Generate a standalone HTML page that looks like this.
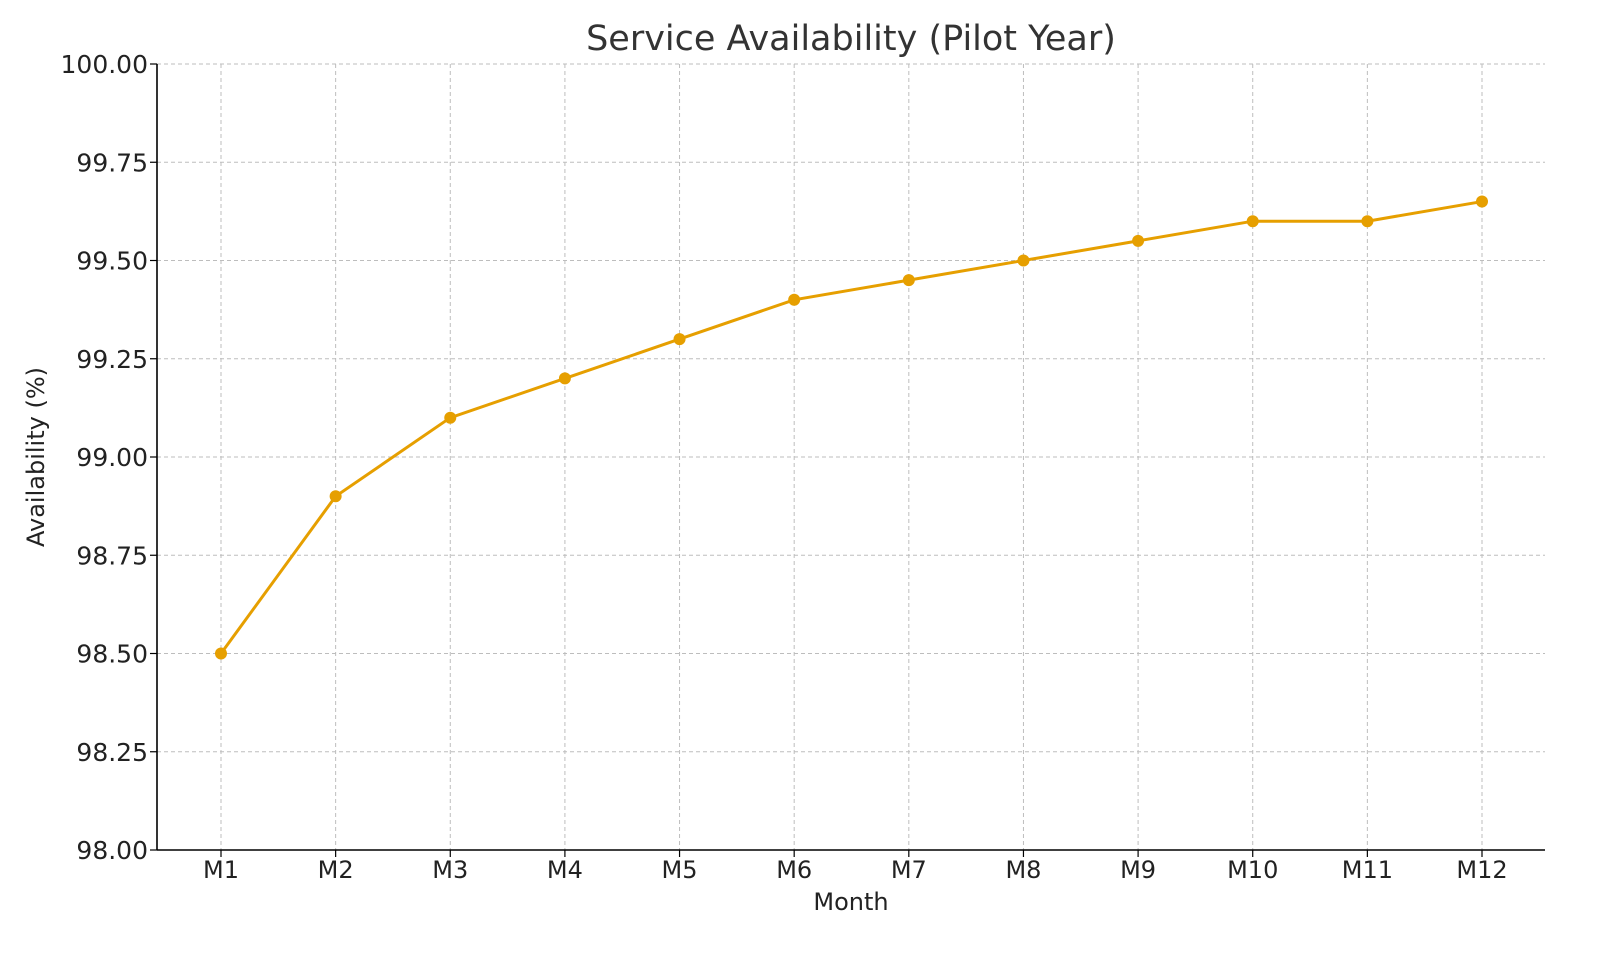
<!DOCTYPE html>
<html><head><meta charset="utf-8"><style>
html,body{margin:0;padding:0;background:#fff;}
svg{display:block;font-family:"DejaVu Sans","Liberation Sans",sans-serif;}
</style></head><body>
<svg id="chart" width="1600" height="960">
<text x="851" y="50" text-anchor="middle" font-size="35" fill="#333">Service Availability (Pilot Year)</text>
<g id="grid"></g>
<g id="yticks"></g>
<g id="xticks"></g>
<line x1="157" y1="64" x2="157" y2="850" stroke="#000" stroke-width="1.6"/>
<line x1="157" y1="850" x2="1545" y2="850" stroke="#000" stroke-width="1.6"/>
<g id="series"></g>
<text x="851" y="910" text-anchor="middle" font-size="24" fill="#222">Month</text>
<text transform="translate(44,457) rotate(-90)" text-anchor="middle" font-size="24" fill="#222">Availability (%)</text>
</svg>
<script>
const categories=["M1","M2","M3","M4","M5","M6","M7","M8","M9","M10","M11","M12"];
const availability=[98.5,98.9,99.1,99.2,99.3,99.4,99.45,99.5,99.55,99.6,99.6,99.65];
const yTicks=[98.00,98.25,98.50,98.75,99.00,99.25,99.50,99.75,100.00];
const NS="http://www.w3.org/2000/svg";
const L=157,R=1545,T=64,B=850,yMin=98,yMax=100;
function x(i){return 221+i*(1482-221)/(categories.length-1);}
function y(v){return B-(v-yMin)/(yMax-yMin)*(B-T);}
function mk(tag,attrs,parent){const e=document.createElementNS(NS,tag);for(const k in attrs)e.setAttribute(k,attrs[k]);parent.appendChild(e);return e;}
const grid=document.getElementById('grid'),yt=document.getElementById('yticks'),xt=document.getElementById('xticks'),ser=document.getElementById('series');
yTicks.forEach(v=>{
 const g=mk('line',{x1:L,x2:R,y1:y(v),y2:y(v),stroke:'#bdbdbd','stroke-width':1,'stroke-dasharray':'4,3'},grid);
 
 
 const t=mk('line',{x1:L-7,x2:L,y1:y(v),y2:y(v),stroke:'#000','stroke-width':1.2},yt);
 
 
 const tx=mk('text',{x:L-9,y:y(v)+9,'text-anchor':'end','font-size':25,fill:'#222'},yt);
 tx.textContent=v.toFixed(2);
 
 
});
categories.forEach((c,i)=>{
 const g=mk('line',{x1:x(i),x2:x(i),y1:T,y2:B,stroke:'#bdbdbd','stroke-width':1,'stroke-dasharray':'4,3'},grid);
 
 
 const t=mk('line',{x1:x(i),x2:x(i),y1:B,y2:B+7,stroke:'#000','stroke-width':1.2},xt);
 
 
 const tx=mk('text',{x:x(i),y:B+28,'text-anchor':'middle','font-size':24,fill:'#222'},xt);
 tx.textContent=c;
 
 
});
const pl=mk('polyline',{points:availability.map((v,i)=>x(i)+','+y(v)).join(' '),fill:'none',stroke:'#E69F00','stroke-width':3},ser);


availability.forEach((v,i)=>{
 const c=mk('circle',{cx:x(i),cy:y(v),r:6,fill:'#E69F00'},ser);
 
 
});
</script>
</body></html>
